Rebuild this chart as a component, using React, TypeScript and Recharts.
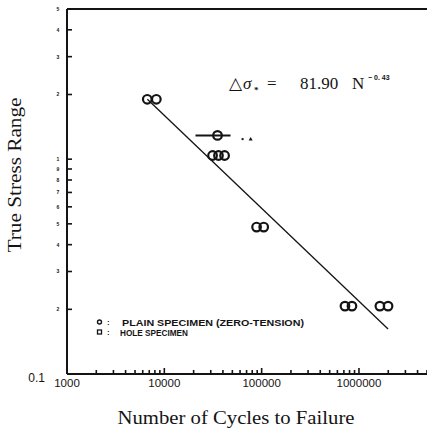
import React from 'react';
import {
  ScatterChart,
  Scatter,
  XAxis,
  YAxis,
  ReferenceLine,
  Customized,
} from 'recharts';

// log-axis ticks (minor ticks in every decade)
const xTicks = [
  1000, 2000, 3000, 4000, 5000, 6000, 7000, 8000, 9000,
  10000, 20000, 30000, 40000, 50000, 60000, 70000, 80000, 90000,
  100000, 200000, 300000, 400000, 500000, 600000, 700000, 800000, 900000,
  1000000, 2000000, 3000000, 4000000, 5000000,
];
const xMajor = [1000, 10000, 100000, 1000000];
const xTickLabels = ['1000', '10000', '100000', '1000000'];
const yTicks = [0.1, 0.2, 0.3, 0.4, 0.5, 0.6, 0.7, 0.8, 0.9, 1, 2, 3, 4, 5];
const yTickLabels = ['0.1', '2', '3', '4', '5', '6', '7', '8', '9', '1', '2', '3', '4', '5'];

// plain specimens (zero-tension)
const plainCycles = [6680, 8280, 31300, 36000, 41600, 88700, 105000, 718000, 847000, 1640000, 1990000];
const plainStress = [1.9, 1.9, 1.04, 1.04, 1.04, 0.483, 0.483, 0.207, 0.207, 0.207, 0.207];

// hole specimen with its scatter band
const holeCycles = [35200];
const holeStress = [1.29];
const holeRangeCycles = [20900, 47900];
const holeRangeStress = [1.29, 1.29];

// small marks next to the hole specimen
const markCycles = [63700, 77100];
const markStress = [1.24, 1.24];
const markKind = ['dot', 'triangle'];

// fitted line  ds = 81.90 N^-0.43
const fitCycles = [6700, 1990000];
const fitStress = [1.9, 0.162];

const plainData = plainCycles.map((n, i) => ({ n, s: plainStress[i] }));
const holeData = holeCycles.map((n, i) => ({ n, s: holeStress[i] }));
const holeRange = holeRangeCycles.map((n, i) => ({ n, s: holeRangeStress[i] }));
const markData = markCycles.map((n, i) => ({ n, s: markStress[i], kind: markKind[i] }));
const fitData = fitCycles.map((n, i) => ({ n, s: fitStress[i] }));

const INK = '#141414';
const SERIF = '"Liberation Serif", "DejaVu Serif", serif';
const SANS = '"Liberation Sans", Arial, sans-serif';

const OpenCircle = (props: any) => (
  <circle cx={props.cx} cy={props.cy} r={4.3} fill='none' stroke={INK} strokeWidth={2.2} />
);

const Mark = (props: any) => {
  const { cx, cy, payload } = props;
  if (payload.kind === 'triangle') {
    return <polygon points={`${cx - 2},${cy + 1.5} ${cx + 2},${cy + 1.5} ${cx},${cy - 2}`} fill={INK} />;
  }
  return <rect x={cx - 1} y={cy - 1} width={2} height={2} fill={INK} />;
};

const NoShape = () => <g />;

// axis ticks: inward mark + label
const XTick = (props: any) => {
  const { x, y, payload } = props;
  const v = payload.value;
  const k = xMajor.indexOf(v);
  const len = k >= 0 ? 6 : 4;
  return (
    <g>
      {v !== 1000 && <rect x={x - 0.8} y={y - len} width={1.6} height={len + 1} fill={INK} stroke='none' />}
      {k >= 0 && (
        <text x={x} y={y + 13} textAnchor='middle' fontFamily={SANS} fontSize={11.5} fill={INK} stroke='none'>
          {xTickLabels[k]}
        </text>
      )}
    </g>
  );
};

const YTick = (props: any) => {
  const { x, y, payload } = props;
  const i = yTicks.indexOf(payload.value);
  if (i === 0) {
    return (
      <text x={x - 22} y={y + 8} textAnchor='end' fontFamily={SANS} fontSize={12} fill={INK} stroke='none'>
        {yTickLabels[i]}
      </text>
    );
  }
  return (
    <g>
      <rect x={x} y={y - 0.8} width={5} height={1.6} fill={INK} stroke='none' />
      <text x={x - 9} y={y + 2} textAnchor='middle' fontFamily={SANS} fontWeight='bold' fontSize={5} fill={INK} stroke='none'>
        {yTickLabels[i]}
      </text>
    </g>
  );
};

const Annotations = () => (
  <g>
    <text x={15} y={175} transform='rotate(-90 15 175)' textAnchor='middle' dominantBaseline='central'
      fontFamily={SERIF} fontSize={18} fill={INK} textLength={155} lengthAdjust='spacingAndGlyphs'>
      True Stress Range
    </text>
    <text x={236} y={424} textAnchor='middle' fontFamily={SERIF} fontSize={18} fill={INK}
      textLength={237} lengthAdjust='spacingAndGlyphs'>
      Number of Cycles to Failure
    </text>
    <text y={89} fontFamily={SERIF} fontSize={17} fill={INK}>
      <tspan x={229}>△</tspan>
      <tspan x={243} fontStyle='italic'>σ</tspan>
      <tspan x={254} dy={4} fontSize={9} fontWeight='bold'>*</tspan>
      <tspan x={267} dy={-4}>=</tspan>
      <tspan x={300}>81.90</tspan>
      <tspan x={352}>N</tspan>
      <tspan x={368} dy={-9} fontSize={7} fontWeight='bold' fontFamily={SANS}>− 0. 43</tspan>
    </text>
    <circle cx={99.5} cy={322} r={2} fill='none' stroke={INK} strokeWidth={1.4} />
    <rect x={97.5} y={330} width={4} height={4} fill='none' stroke={INK} strokeWidth={1.3} />
    <text x={107} y={325} fontFamily={SANS} fontWeight='bold' fontSize={8} fill={INK}>:</text>
    <text x={107} y={335} fontFamily={SANS} fontWeight='bold' fontSize={8} fill={INK}>:</text>
    <text x={122} y={325.5} fontFamily={SANS} fontWeight='bold' fontSize={9.5} fill={INK}
      textLength={182} lengthAdjust='spacingAndGlyphs'>
      PLAIN SPECIMEN (ZERO-TENSION)
    </text>
    <text x={120} y={335.5} fontFamily={SANS} fontWeight='bold' fontSize={9.5} fill={INK}
      textLength={68} lengthAdjust='spacingAndGlyphs'>
      HOLE SPECIMEN
    </text>
  </g>
);

export default function App() {
  return (
    <div style={{ position: 'absolute', left: 0, top: 0, background: '#fff' }}>
      <ScatterChart width={427} height={436} margin={{ top: 9, right: 0, bottom: 0, left: 0 }}>
        <XAxis
          dataKey='n'
          type='number'
          scale='log'
          domain={[1000, 5000000]}
          ticks={xTicks}
          interval={0}
          allowDataOverflow
          height={62}
          tickSize={0}
          tickMargin={0}
          tickLine={false}
          tick={<XTick />}
          axisLine={{ stroke: INK, strokeWidth: 2 }}
        />
        <YAxis
          dataKey='s'
          type='number'
          scale='log'
          domain={[0.1, 5]}
          ticks={yTicks}
          interval={0}
          allowDataOverflow
          width={67}
          tickSize={0}
          tickMargin={0}
          tickLine={false}
          tick={<YTick />}
          axisLine={{ stroke: INK, strokeWidth: 2 }}
        />
        <ReferenceLine y={5} stroke={INK} strokeWidth={2} ifOverflow='extendDomain' />
        <Scatter data={fitData} line={{ stroke: INK, strokeWidth: 1.3 }} shape={NoShape} isAnimationActive={false} />
        <Scatter data={holeRange} line={{ stroke: INK, strokeWidth: 2 }} shape={NoShape} isAnimationActive={false} />
        <Scatter data={plainData} shape={OpenCircle} isAnimationActive={false} />
        <Scatter data={holeData} shape={OpenCircle} isAnimationActive={false} />
        <Scatter data={markData} shape={Mark} isAnimationActive={false} />
        <Customized component={Annotations} />
      </ScatterChart>
    </div>
  );
}
